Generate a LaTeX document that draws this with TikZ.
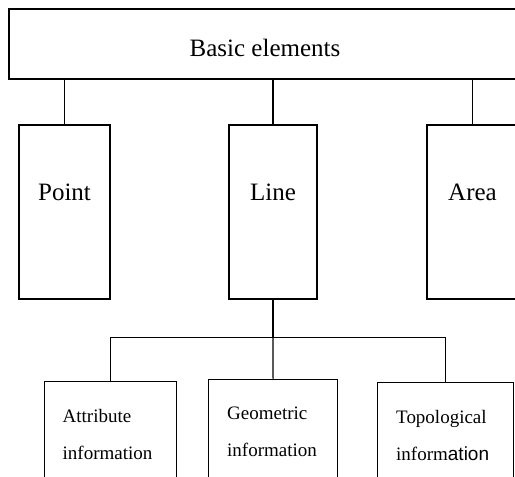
\documentclass[tikz,border=0pt]{standalone}
\usepackage{fontspec}
\setmainfont{Liberation Serif}
\setsansfont{Liberation Sans}
\usetikzlibrary{calc}

\tikzset{
  box/.style={draw, line width=1.1pt, inner sep=0pt},
  elem/.style={box, minimum width=91pt, minimum height=174pt,
    font=\fontsize{25}{30}\selectfont, text height=17pt, text depth=41pt},
  leaf/.style={box, anchor=north west, minimum height=110pt},
  leaftext/.style={anchor=base west, align=left, inner sep=0pt,
    font=\fontsize{19}{37}\selectfont},
  link/.style={line width=1.1pt}
}

\begin{document}
\begin{tikzpicture}[x=1pt, y=-1pt]
  \fill[white] (0,0) rectangle (515,477);
  \clip (0,0) rectangle (515,477);

  % top level
  \node[box, minimum width=512pt, minimum height=70pt, font=\fontsize{25}{30}\selectfont,
    text height=24pt, text depth=0pt] (basic) at (265,44) {Basic elements};

  % the three elements
  \node[elem] (point) at (64.5,212) {Point};
  \node[elem, minimum width=88pt] (line) at (273,212) {Line};
  \node[elem] (area) at (472.5,212) {Area};

  \draw[link] (basic.south -| point.north) -- (point.north);
  \draw[link] (basic.south -| line.north) -- (line.north);
  \draw[link] (basic.south -| area.north) -- (area.north);

  % information of a line
  \node[leaf, minimum width=132pt] (attr) at (44,381) {};
  \node[leaf, minimum width=129pt] (geo) at (208,379) {};
  \node[leaf, minimum width=136pt] (topo) at (377,382) {};

  \node[leaftext] (attrtext) at ($(attr.north west)+(18.5,78)$) {Attribute\\information};
  \node[leaftext] (geotext) at ($(geo.north west)+(19,77)$) {Geometric\\information};
  \node[leaftext] (topotext) at ($(topo.north west)+(19,78)$) {Topological\\inform{\sffamily ation}};

  \draw[link] (line.south) -- ++(0,38) coordinate (fork);
  \draw[link] (attr.north) |- (fork) -| (topo.north);
  \draw[link] (fork) -- (geo.north);
\end{tikzpicture}
\end{document}
